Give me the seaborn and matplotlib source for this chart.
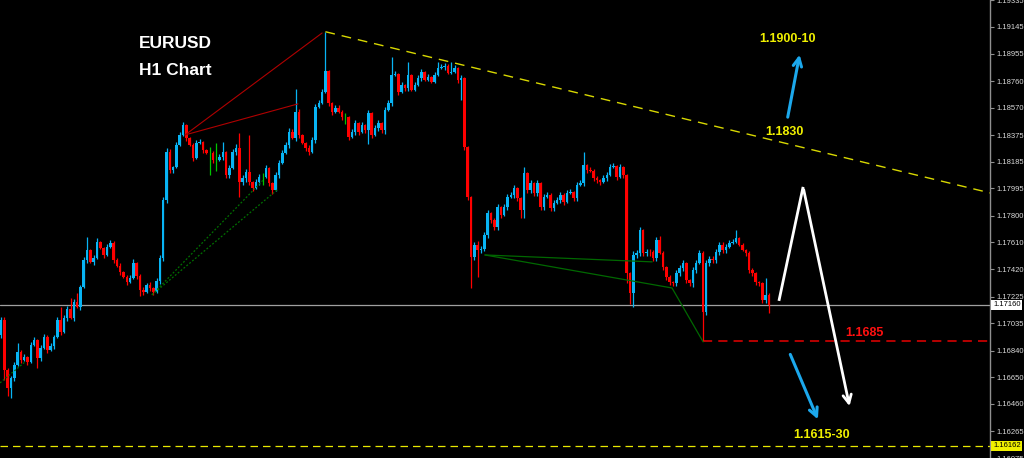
import matplotlib
matplotlib.use("Agg")
from matplotlib import pyplot as plt
import numpy as np
import pandas as pd
import seaborn as sns

### EURUSD H1 candles (prices)
first_open = 1.16952
closes = [
    1.17059, 1.16703, 1.16574, 1.16646, 1.16738, 1.16831, 1.16774, 1.16795, 1.16760, 1.16881,
    1.16916, 1.16788, 1.16859, 1.16938, 1.16845, 1.16873, 1.16938, 1.17059, 1.16973, 1.17073,
    1.17137, 1.17073, 1.17187, 1.17151, 1.17294, 1.17486, 1.17557, 1.17472, 1.17500, 1.17614,
    1.17571, 1.17521, 1.17578, 1.17607, 1.17486, 1.17443, 1.17400, 1.17365, 1.17329, 1.17358,
    1.17464, 1.17372, 1.17272, 1.17258, 1.17308, 1.17286, 1.17258, 1.17336, 1.17500, 1.17913,
    1.18255, 1.18127, 1.18148, 1.18305, 1.18376, 1.18447, 1.18354, 1.18305, 1.18212, 1.18319,
    1.18326, 1.18269, 1.18248, 1.18248, 1.18198, 1.18198, 1.18219, 1.18255, 1.18091, 1.18141,
    1.18255, 1.18283, 1.18041, 1.18070, 1.18112, 1.18041, 1.17998, 1.18041, 1.18077, 1.18077,
    1.18141, 1.18034, 1.17984, 1.18091, 1.18176, 1.18248, 1.18305, 1.18397, 1.18354, 1.18540,
    1.18376, 1.18319, 1.18283, 1.18255, 1.18340, 1.18575, 1.18604, 1.18682, 1.18831, 1.18604,
    1.18540, 1.18568, 1.18540, 1.18504, 1.18504, 1.18362, 1.18397, 1.18461, 1.18397, 1.18447,
    1.18411, 1.18532, 1.18376, 1.18426, 1.18461, 1.18411, 1.18554, 1.18604, 1.18803, 1.18810,
    1.18682, 1.18732, 1.18710, 1.18803, 1.18696, 1.18732, 1.18782, 1.18824, 1.18767, 1.18789,
    1.18753, 1.18803, 1.18853, 1.18860, 1.18870, 1.18817, 1.18824, 1.18853, 1.18767, 1.18782,
    1.18290, 1.17934, 1.17507, 1.17593, 1.17557, 1.17567, 1.17664, 1.17820, 1.17771, 1.17721,
    1.17863, 1.17806, 1.17863, 1.17934, 1.17949, 1.17998, 1.17927, 1.17842, 1.18105, 1.17984,
    1.18034, 1.17963, 1.18034, 1.17863, 1.17934, 1.17949, 1.17856, 1.17892, 1.17913, 1.17949,
    1.17899, 1.17963, 1.17970, 1.17927, 1.18020, 1.18034, 1.18162, 1.18127, 1.18120, 1.18070,
    1.18055, 1.18041, 1.18070, 1.18091, 1.18148, 1.18155, 1.18077, 1.18148, 1.18091, 1.17393,
    1.17251, 1.17521, 1.17536, 1.17699, 1.17536, 1.17545, 1.17543, 1.17500, 1.17628, 1.17536,
    1.17436, 1.17365, 1.17329, 1.17322, 1.17393, 1.17429, 1.17464, 1.17343, 1.17322, 1.17415,
    1.17464, 1.17536, 1.17116, 1.17464, 1.17494, 1.17486, 1.17543, 1.17593, 1.17557, 1.17578,
    1.17607, 1.17614, 1.17642, 1.17593, 1.17557, 1.17536, 1.17415, 1.17393, 1.17329, 1.17322,
    1.17201, 1.17237, 1.17165,
]
# wick lengths beyond the body, in pips
upper_wick = [
    2, 2, 1, 1, 2, 6, 1, 2, 1, 2,
    2, 1, 2, 2, 1, 2, 1, 2, 9, 2,
    2, 8, 2, 6, 1, 2, 9, 1, 2, 3,
    1, 1, 2, 2, 1, 1, 2, 1, 1, 2,
    3, 1, 1, 2, 1, 2, 1, 2, 2, 2,
    3, 2, 1, 2, 2, 2, 1, 1, 1, 2,
    2, 1, 1, 4, 1, 12, 2, 7, 1, 2,
    2, 3, 11, 2, 2, 26, 1, 2, 2, 3,
    2, 1, 1, 2, 2, 2, 2, 3, 2, 16,
    2, 1, 1, 2, 2, 2, 2, 2, 28, 1,
    1, 2, 2, 1, 3, 1, 2, 2, 1, 2,
    1, 2, 1, 2, 2, 1, 2, 2, 13, 2,
    1, 2, 1, 9, 1, 2, 2, 2, 1, 2,
    1, 2, 4, 2, 2, 1, 7, 2, 1, 2,
    1, 1, 1, 2, 3, 2, 2, 2, 1, 1,
    2, 1, 2, 2, 2, 2, 1, 1, 4, 1,
    2, 1, 2, 1, 2, 2, 1, 2, 2, 2,
    1, 2, 2, 1, 2, 2, 9, 1, 2, 1,
    1, 1, 2, 2, 2, 2, 1, 2, 1, 1,
    1, 3, 2, 2, 1, 2, 2, 1, 2, 3,
    1, 1, 1, 1, 2, 2, 2, 1, 1, 2,
    2, 2, 1, 2, 2, 2, 2, 2, 2, 2,
    2, 2, 6, 1, 1, 1, 1, 1, 1, 1,
    1, 12, 1,
]
lower_wick = [
    2, 7, 6, 7, 2, 1, 2, 1, 2, 1,
    1, 7, 2, 1, 2, 1, 2, 1, 2, 1,
    2, 1, 2, 1, 2, 1, 2, 1, 2, 1,
    1, 2, 1, 1, 2, 1, 2, 1, 2, 1,
    1, 2, 4, 2, 1, 2, 2, 1, 2, 2,
    2, 2, 2, 1, 1, 1, 2, 1, 2, 1,
    1, 2, 1, 16, 2, 8, 1, 2, 2, 2,
    1, 2, 11, 2, 3, 2, 2, 1, 2, 6,
    1, 2, 3, 1, 2, 1, 1, 2, 1, 2,
    2, 1, 2, 2, 1, 2, 1, 1, 1, 2,
    2, 1, 1, 2, 5, 2, 1, 2, 2, 1,
    2, 10, 2, 1, 2, 2, 3, 1, 2, 1,
    2, 1, 2, 2, 1, 1, 1, 2, 1, 1,
    1, 1, 1, 1, 2, 1, 1, 1, 2, 14,
    2, 2, 22, 2, 19, 2, 2, 2, 2, 2,
    2, 2, 1, 2, 1, 2, 2, 6, 6, 2,
    2, 2, 2, 2, 2, 1, 2, 2, 1, 2,
    2, 1, 1, 2, 2, 1, 2, 2, 1, 2,
    2, 2, 1, 2, 1, 1, 2, 1, 2, 7,
    8, 10, 2, 2, 2, 2, 3, 2, 2, 1,
    2, 2, 2, 2, 2, 2, 2, 2, 2, 3,
    2, 1, 21, 2, 2, 2, 2, 2, 2, 2,
    1, 1, 1, 1, 1, 2, 2, 2, 2, 2,
    2, 2, 6,
]

# right price scale
price_ticks = [1.19335, 1.19145, 1.18955, 1.18760, 1.18570, 1.18375, 1.18185, 1.17995,
               1.17800, 1.17610, 1.17420, 1.17225, 1.17035, 1.16840, 1.16650, 1.16460,
               1.16265, 1.16075]
current_label = "1.17160"
target_low = 1.16162

# drawn objects (bar index, price)
trend_x = [98, 298.8]
trend_y = [1.19111, 1.17963]
red_a_x, red_a_y = [55.6, 97.0], [1.18376, 1.19102]
red_b_x, red_b_y = [55.6, 89.7], [1.18376, 1.18597]
dot_a_x, dot_a_y = [45.6, 79.2], [1.17237, 1.18055]
dot_b_x, dot_b_y = [45.6, 83.4], [1.17237, 1.17984]
dot_c_x, dot_c_y = [-0.3, 7.3], [1.16610, 1.16760]
grn_a_x, grn_a_y = [146.2, 196.7], [1.17521, 1.17472]
grn_b_x, grn_b_y = [146.2, 202.7, 212.1], [1.17521, 1.17286, 1.16902]
spike_bar = 212

df = pd.DataFrame({"close": closes})
df["open"] = [first_open] + closes[:-1]
df["high"] = df[["open", "close"]].max(axis=1) + np.array(upper_wick) * 0.0001
df["low"] = df[["open", "close"]].min(axis=1) - np.array(lower_wick) * 0.0001
df["idx"] = np.arange(len(df))

BULL = "#08b4f4"
BEAR = "#ff0000"
DOJI = "#00c400"
colors = np.where(np.isclose(df["close"], df["open"], atol=1e-6), DOJI,
                  np.where(df["close"] > df["open"], BULL, BEAR))

sns.set_style("dark", {"axes.facecolor": "black", "figure.facecolor": "black"})
plt.rcParams["font.family"] = ["Liberation Sans", "DejaVu Sans"]

fig = plt.figure(figsize=(10.24, 4.58), dpi=100)
ax = fig.add_axes([0, 0, 990 / 1024, 1])
ax.set_facecolor("black")

n = len(df)
step = 768 / (n - 1)          # pixels per bar
x0 = -1 / step
x1 = x0 + 990 / step
ax.set_xlim(x0, x1)
ax.set_ylim(1.16077, 1.19337)

# reference lines
ax.axhline(df["close"].iloc[-1], color="#a0a0a0", lw=0.9, zorder=1)
ax.axhline(target_low, color="#e8e800", lw=0.9, ls=(0, (6, 4)), zorder=1)
ax.hlines(df["low"].iloc[spike_bar], spike_bar, x1, color="#e80000",
          lw=1.1, linestyles=(0, (6, 4)), zorder=1)

# wicks and bodies
ax.vlines(df["idx"], df["low"], df["high"], colors=colors, lw=0.9, zorder=3)
body = (df["close"] - df["open"]).abs().clip(lower=0.000015)
ax.bar(df["idx"], body, bottom=df[["open", "close"]].min(axis=1), width=0.78,
       color=colors, linewidth=0, zorder=4)

# trend lines
sns.lineplot(x=trend_x, y=trend_y, ax=ax, color="#d8d800", lw=1.0,
             linestyle=(0, (7, 5)), sort=False, zorder=5)
for xs, ys in [(red_a_x, red_a_y), (red_b_x, red_b_y)]:
    sns.lineplot(x=xs, y=ys, ax=ax, color="#b00000", lw=0.8, sort=False, zorder=5)
for xs, ys in [(dot_a_x, dot_a_y), (dot_b_x, dot_b_y), (dot_c_x, dot_c_y)]:
    sns.lineplot(x=xs, y=ys, ax=ax, color="#007000", lw=0.9,
                 linestyle=(0, (1.5, 1.5)), sort=False, zorder=5)
for xs, ys in [(grn_a_x, grn_a_y), (grn_b_x, grn_b_y)]:
    sns.lineplot(x=xs, y=ys, ax=ax, color="#006800", lw=0.9, sort=False, zorder=5)

# scenario arrows
blue_arrow = dict(arrowstyle="->,head_length=0.6,head_width=0.3", color="#1ca8ec", lw=2.2)
ax.annotate("", xy=(241.4, 1.18967), xytext=(237.5, 1.18483), arrowprops=blue_arrow)
ax.annotate("", xy=(247.1, 1.16332), xytext=(238.1, 1.16831), arrowprops=blue_arrow)
ax.plot([235.0, 242.3], [1.17194, 1.18006], color="white", lw=2.0, solid_capstyle="butt")
ax.annotate("", xy=(256.5, 1.16425), xytext=(242.3, 1.18006),
            arrowprops=dict(arrowstyle="->,head_length=0.6,head_width=0.3",
                            color="white", lw=2.0))

# labels
tf = dict(fontweight="bold", ha="center", va="center")
ax.text(0.177, 0.904, "EURUSD", transform=ax.transAxes, color="white", fontsize=12.5, **tf)
ax.text(0.177, 0.847, "H1 Chart", transform=ax.transAxes, color="white", fontsize=12.5, **tf)
ax.text(237.5, 1.19059, "1.1900-10", color="#f0f000", fontsize=9, **tf)
ax.text(236.6, 1.18397, "1.1830", color="#f0f000", fontsize=9, **tf)
ax.text(260.7, 1.16966, "1.1685", color="#ff1010", fontsize=9, **tf)
ax.text(248.0, 1.16240, "1.1615-30", color="#f0f000", fontsize=9, **tf)

# price axis on the right
ax.yaxis.tick_right()
ax.set_yticks(price_ticks)
ax.set_yticklabels([f"{p:.5f}" for p in price_ticks])
ax.tick_params(axis="y", colors="#909090", labelcolor="#d8d8d8", labelsize=5.5,
               length=3, width=0.8, pad=2, right=True)
ax.set_xticks([])
ax.set_xlabel("")
ax.set_ylabel("")
for side in ["top", "bottom", "left"]:
    ax.spines[side].set_visible(False)
ax.spines["right"].set_visible(True)
ax.spines["right"].set_color("#909090")
ax.spines["right"].set_linewidth(1.0)
ax.grid(False)

box = dict(boxstyle="square,pad=0.2", linewidth=0)
lab_tr = ax.get_yaxis_transform()
ax.text(1.003, df["close"].iloc[-1], current_label, transform=lab_tr,
        fontsize=5.5, color="black", va="center", ha="left",
        bbox=dict(facecolor="white", **box), zorder=10, clip_on=False)
ax.text(1.003, target_low, f"{target_low:.5f}", transform=lab_tr, fontsize=5.5,
        color="black", va="center", ha="left",
        bbox=dict(facecolor="#f0f000", **box), zorder=10, clip_on=False)

fig.savefig("out.png", dpi=100, facecolor="black")
